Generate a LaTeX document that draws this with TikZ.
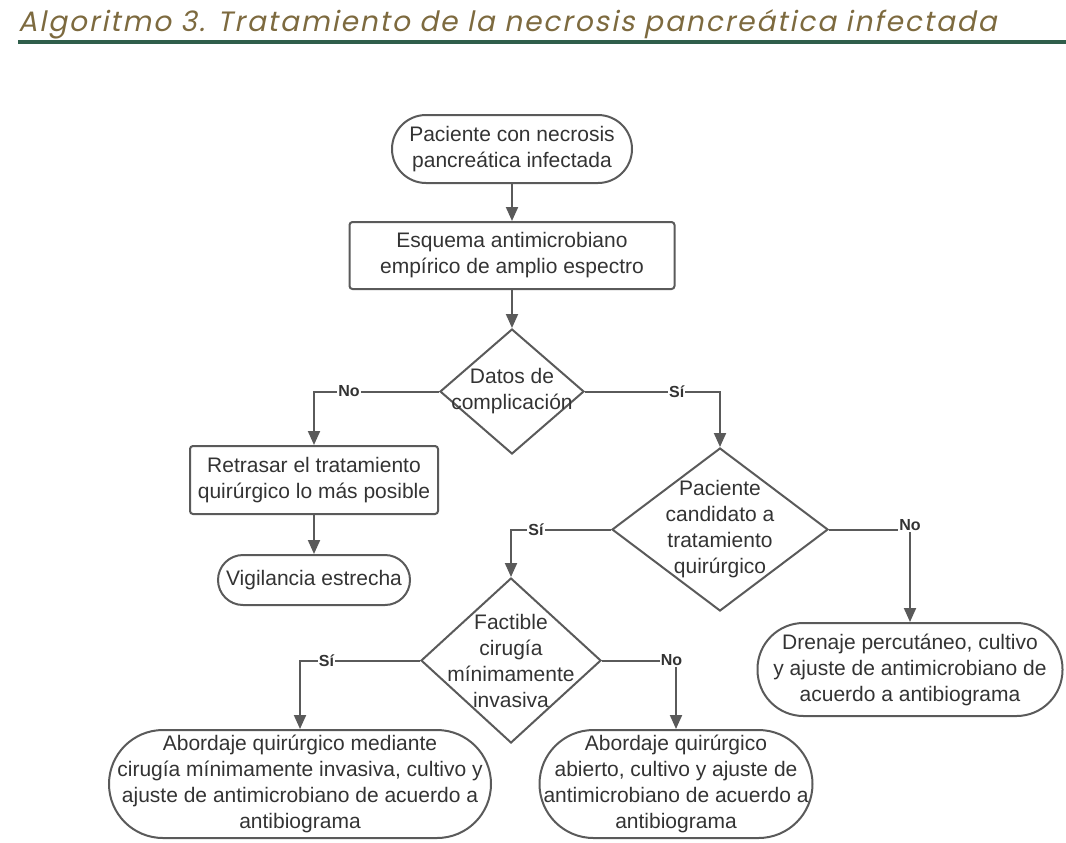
\documentclass[tikz,border=0pt]{standalone}
\usepackage{fontspec}
\setmainfont{Liberation Sans}
\newfontfamily\titlefont[FakeSlant=0.2,LetterSpace=7]{Poppins}
\usepackage{xcolor}
\usetikzlibrary{arrows.meta, positioning, shapes.geometric}
\definecolor{linegray}{HTML}{5A5A5A}
\definecolor{textgray}{HTML}{333333}
\definecolor{titlegold}{HTML}{7D6A3F}
\definecolor{rulegreen}{HTML}{2F5E4B}
\tikzset{
  terminal/.style={draw=linegray, line width=1pt, align=center, text=textgray, inner sep=2pt},
  process/.style={draw=linegray, line width=1pt, rounded corners=1.5pt, align=center, text=textgray, inner sep=2pt},
  decision/.style={draw=linegray, line width=1pt, diamond, align=center, text=textgray, inner sep=-20pt},
  arrow/.style={-{Triangle[length=7pt, width=6pt]}, line width=1pt, draw=linegray},
  answer/.style={font=\bfseries\footnotesize, text=textgray, fill=white, inner sep=0.5pt},
  every node/.style={font=\fontsize{10.5pt}{13pt}\selectfont}
}
\begin{document}
\begin{tikzpicture}[x=0.5pt, y=-0.5pt]
    \useasboundingbox (0,0) rectangle (1066,842);
    \node[anchor=base west, text=titlegold, font=\titlefont\fontsize{14pt}{16pt}\selectfont, inner sep=0pt] (title) at (18,31) {Algoritmo 3. Tratamiento de la necrosis pancreática infectada};
    \draw[rulegreen, line width=1.6pt] (18,42) -- (1066,42);

    \node[terminal, minimum width=120pt, minimum height=34pt, rounded corners=17pt] (start) at (512,149) {Paciente con necrosis\\pancreática infectada};
    \node[process, minimum width=162.5pt, minimum height=33.5pt, below=18.5pt of start] (empiric) {Esquema antimicrobiano\\empírico de amplio espectro};
    \node[decision, minimum width=72pt, minimum height=62.5pt, below=19pt of empiric] (compl) {Datos de\\complicación};
    \node[process, minimum width=124pt, minimum height=34pt, below=-5pt of compl, xshift=-99pt] (delay) {Retrasar el tratamiento\\quirúrgico lo más posible};
    \node[terminal, minimum width=96pt, minimum height=25pt, rounded corners=12.5pt, below=19.5pt of delay] (watch) {Vigilancia estrecha};
    \node[decision, minimum width=108pt, minimum height=81.5pt, below=-4pt of compl, xshift=104pt] (cand) {Paciente\\candidato a\\tratamiento\\quirúrgico};
    \node[decision, minimum width=90pt, minimum height=82.5pt, below=-17.5pt of cand, xshift=-104.5pt] (mis) {Factible\\cirugía\\mínimamente\\invasiva};
    \node[terminal, minimum width=152.5pt, minimum height=46.5pt, rounded corners=23pt, below=5pt of cand, xshift=95pt] (drain) {Drenaje percutáneo, cultivo\\y ajuste de antimicrobiano de\\acuerdo a antibiograma};
    \node[terminal, minimum width=191pt, minimum height=54pt, rounded corners=27pt, below=-7.5pt of mis, xshift=-105.5pt] (lapar) {Abordaje quirúrgico mediante\\cirugía mínimamente invasiva, cultivo y\\ajuste de antimicrobiano de acuerdo a\\antibiograma};
    \node[terminal, minimum width=135pt, minimum height=54pt, rounded corners=27pt, below=-7.5pt of mis, xshift=82.5pt] (open) {Abordaje quirúrgico\\abierto, cultivo y ajuste de\\antimicrobiano de acuerdo a\\antibiograma};

    \draw[arrow] (start) -- (empiric);
    \draw[arrow] (empiric) -- (compl);
    \draw[arrow] (compl.west) -| node[answer, pos=0.36] {No} (delay.north);
    \draw[arrow] (delay) -- (watch);
    \draw[arrow] (compl.east) -| node[answer, pos=0.34] {Sí} (cand.north);
    \draw[arrow] (cand.west) -| node[answer, pos=0.375] {Sí} (mis.north);
    \draw[arrow] (cand.east) -| node[answer, pos=0.5, yshift=2pt] {No} (drain.north);
    \draw[arrow] (mis.west) -| node[answer, pos=0.39] {Sí} (lapar.north);
    \draw[arrow] (mis.east) -| node[answer, pos=0.47] {No} (open.north);
\end{tikzpicture}
\end{document}
